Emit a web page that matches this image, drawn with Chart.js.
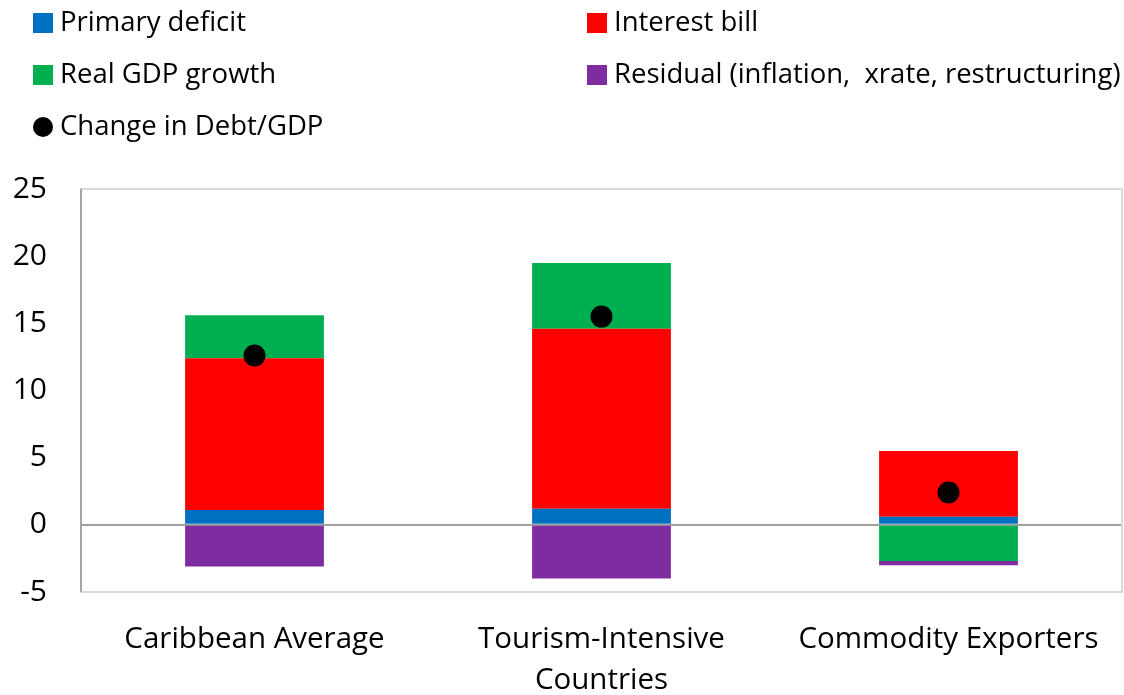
<!DOCTYPE html>
<html><head><meta charset="utf-8">
<script src="https://cdn.jsdelivr.net/npm/chart.js@4"></script>
<style>html,body{margin:0;padding:0;background:#fff}#wrap{width:1124px;height:695px;position:relative}</style>
</head><body><div id="wrap"><canvas id="c" width="1124" height="695"></canvas></div>
<script>
const categories = ["Caribbean Average", ["Tourism-Intensive", "Countries"], "Commodity Exporters"];
const primaryDeficit = [1.1, 1.2, 0.6];
const interestBill = [11.3, 13.4, 4.9];
const realGdpGrowth = [3.2, 4.9, -2.7];
const residual = [-3.1, -4.0, -0.3];
const changeInDebt = [12.6, 15.5, 2.4];
const seriesNames = ["Primary deficit", "Interest bill", "Real GDP growth", "Residual (inflation,  xrate, restructuring)", "Change in Debt/GDP"];
const yMin = -5, yMax = 25, yStep = 5;

const FONT = "'Open Sans', 'Noto Sans', sans-serif";
const colors = ['#0070C0', '#FF0000', '#00B050', '#7E2CA0', '#000000'];

const plotBorder = {
  id: 'plotBorder',
  beforeDatasetsDraw(chart) {
    const {ctx, chartArea: a} = chart;
    ctx.save();
    ctx.strokeStyle = '#d9d9d9';
    ctx.lineWidth = 2;
    ctx.strokeRect(a.left, a.top, a.right - a.left, a.bottom - a.top);
    ctx.strokeStyle = '#a6a6a6';
    ctx.beginPath();
    ctx.moveTo(a.left, a.top); ctx.lineTo(a.left, a.bottom);
    ctx.stroke();
    ctx.restore();
  }
};

const customLegend = {
  id: 'customLegend',
  afterDraw(chart) {
    const ctx = chart.ctx;
    const ds = chart.data.datasets;
    const pos = [
      {x: 33, y: 23}, {x: 587, y: 23},
      {x: 33, y: 75}, {x: 587, y: 75},
      {x: 33, y: 127}
    ];
    ctx.save();
    ctx.font = '27.5px ' + FONT;
    ctx.textBaseline = 'middle';
    ctx.fillStyle = '#000';
    [0, 1, 2, 3, 4].forEach((idx, i) => {
      const d = ds.find(x => x.legendIndex === idx);
      const p = pos[i];
      if (d.type === 'line') {
        ctx.fillStyle = d.pointBackgroundColor;
        ctx.beginPath();
        ctx.arc(p.x + 10, p.y, 10, 0, Math.PI * 2);
        ctx.fill();
      } else {
        ctx.fillStyle = d.backgroundColor;
        ctx.fillRect(p.x, p.y - 10, 20, 20);
      }
      ctx.fillStyle = '#000';
      ctx.fillText(d.label, p.x + 27, p.y);
    });
    ctx.restore();
  }
};

const barDefaults = {type: 'bar', order: 1, barPercentage: 0.4, categoryPercentage: 1, borderWidth: 0, stack: 's'};

new Chart(document.getElementById('c'), {
  data: {
    labels: categories,
    datasets: [
      Object.assign({}, barDefaults, {label: seriesNames[0], data: primaryDeficit, backgroundColor: colors[0], legendIndex: 0}),
      Object.assign({}, barDefaults, {label: seriesNames[1], data: interestBill, backgroundColor: colors[1], legendIndex: 1}),
      Object.assign({}, barDefaults, {label: seriesNames[2], data: realGdpGrowth, backgroundColor: colors[2], legendIndex: 2}),
      Object.assign({}, barDefaults, {label: seriesNames[3], data: residual, backgroundColor: colors[3], legendIndex: 3}),
      {type: 'line', label: seriesNames[4], data: changeInDebt, yAxisID: 'y2', order: 0, showLine: false,
       pointRadius: 11, pointHoverRadius: 11, pointBackgroundColor: colors[4], pointBorderWidth: 0, borderColor: colors[4], legendIndex: 4}
    ]
  },
  options: {
    responsive: false,
    animation: false,
    devicePixelRatio: 1,
    layout: {autoPadding: false, padding: {top: 189, right: 2, left: 0, bottom: 0}},
    plugins: {legend: {display: false}, tooltip: {enabled: false}},
    scales: {
      x: {
        stacked: true,
        grid: {display: false, drawTicks: false},
        border: {display: false},
        ticks: {font: {family: FONT, size: 29.5, lineHeight: 1.39}, color: '#000', padding: 27, maxRotation: 0, autoSkip: false},
        afterFit(s) { s.height = 103; s.paddingLeft = 0; s.paddingRight = 0; }
      },
      y: {
        stacked: true,
        min: yMin, max: yMax,
        ticks: {stepSize: yStep, font: {family: FONT, size: 30}, color: '#000', padding: 34},
        grid: {drawTicks: false, lineWidth: 2, color: c => c.tick && c.tick.value === 0 ? '#a0a0a0' : 'rgba(0,0,0,0)'},
        border: {display: false},
        afterFit(s) { s.width = 81; }
      },
      y2: {display: false, min: yMin, max: yMax}
    }
  },
  plugins: [plotBorder, customLegend]
});
</script></body></html>
